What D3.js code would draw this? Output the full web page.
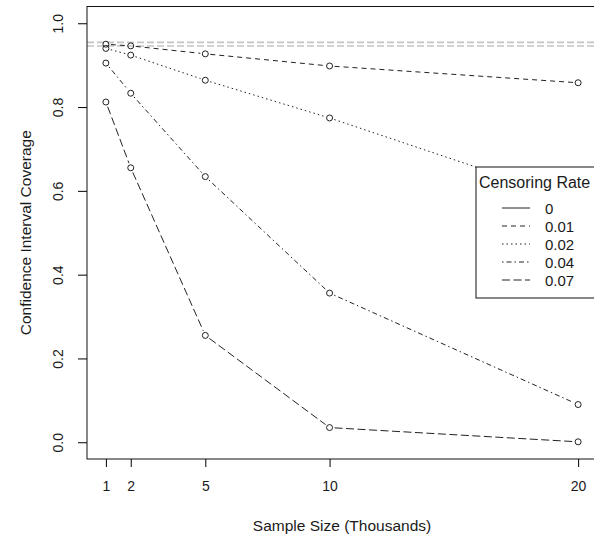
<!DOCTYPE html>
<html>
<head>
    <title>Confidence Interval Coverage</title>
    <script src="https://d3js.org/d3.v7.min.js"></script>
    <style>
        body { margin: 0; background: #fff; }
        text { font-family: "Liberation Sans", Arial, sans-serif; fill: #1a1a1a; }
    </style>
</head>
<body>
    <svg id="chart" width="594" height="540"></svg>

    <script>
    // sample sizes (thousands) on the x axis
    const sampleSizes = [1, 2, 5, 10, 20];
    // censoring rates, one line per rate
    const rates = ["0", "0.01", "0.02", "0.04", "0.07"];
    // coverage per censoring rate
    const cov001 = [0.950, 0.946, 0.927, 0.898, 0.858];
    const cov002 = [0.940, 0.924, 0.864, 0.774, 0.575];
    const cov004 = [0.905, 0.833, 0.634, 0.356, 0.090];
    const cov007 = [0.812, 0.655, 0.255, 0.035, 0.001];
    // reference band around the nominal 95%
    const nominalBand = [0.9457, 0.9543];
    const yTicks = [0, 0.2, 0.4, 0.6, 0.8, 1.0];

    // R style line types
    const lty = {
        "0": null,
        "0.01": "5,4",
        "0.02": "1.5,3",
        "0.04": "1.5,3,5,3",
        "0.07": "8,3.5"
    };

    const series = [
        { rate: "0.01", values: cov001 },
        { rate: "0.02", values: cov002 },
        { rate: "0.04", values: cov004 },
        { rate: "0.07", values: cov007 }
    ];

    const svg = d3.select("#chart");
    const pLeft = 87, pRight = 597, pTop = 6.5, pBottom = 459;

    // 4% padding like base graphics
    let scX = d3.scaleLinear().domain([0.24, 20.76]).range([pLeft, pRight]),
        scY = d3.scaleLinear().domain([-0.04, 1.04]).range([pBottom, pTop]);

    // grey dashed band lines
    svg.selectAll("line.band").data(nominalBand).enter().append("line")
        .attr("class", "band")
        .attr("x1", pLeft).attr("x2", pRight)
        .attr("y1", d => scY(d)).attr("y2", d => scY(d))
        .attr("stroke", "#c4c4c4").attr("stroke-width", 1.6)
        .attr("stroke-dasharray", "7,3");

    // lines with gaps round the points (type = "b")
    const gap = 5;
    series.forEach(s => {
        let pts = s.values.map((v, i) => [scX(sampleSizes[i]), scY(v)]);
        let segs = d3.pairs(pts).map(([a, b]) => {
            let dx = b[0] - a[0], dy = b[1] - a[1], len = Math.hypot(dx, dy);
            let ux = dx / len, uy = dy / len;
            return [a[0] + ux * gap, a[1] + uy * gap, b[0] - ux * gap, b[1] - uy * gap];
        });
        svg.append("g").selectAll("line").data(segs).enter().append("line")
            .attr("x1", d => d[0]).attr("y1", d => d[1])
            .attr("x2", d => d[2]).attr("y2", d => d[3])
            .attr("stroke", "#222").attr("stroke-width", 1)
            .attr("stroke-dasharray", lty[s.rate]);
        svg.append("g").selectAll("circle").data(pts).enter().append("circle")
            .attr("cx", d => d[0]).attr("cy", d => d[1]).attr("r", 3)
            .attr("fill", "none").attr("stroke", "#222").attr("stroke-width", 1);
    });

    // plot box
    svg.append("rect")
        .attr("x", pLeft).attr("y", pTop)
        .attr("width", pRight - pLeft).attr("height", pBottom - pTop)
        .attr("fill", "none").attr("stroke", "#111").attr("stroke-width", 1);

    // x axis
    let xAxis = d3.axisBottom(scX).tickValues(sampleSizes).tickSize(8).tickPadding(14);
    let gx = svg.append("g").attr("transform", "translate(0," + pBottom + ")").call(xAxis);
    gx.select(".domain").remove();
    gx.selectAll("text").style("font-size", "14px");

    // y axis, labels turned like las = 0
    let yAxis = d3.axisLeft(scY).tickValues(yTicks).tickFormat(d3.format(".1f")).tickSize(9);
    let gy = svg.append("g").attr("transform", "translate(" + pLeft + ",0)").call(yAxis);
    gy.select(".domain").remove();
    gy.selectAll("text")
        .style("font-size", "14px")
        .attr("x", null).attr("dy", null)
        .attr("text-anchor", "middle")
        .attr("transform", "translate(-29,0) rotate(-90)")
        .attr("y", 4.5);

    // axis titles
    svg.append("text")
        .attr("x", (pLeft + pRight) / 2).attr("y", 531)
        .attr("text-anchor", "middle").style("font-size", "15.5px")
        .text("Sample Size (Thousands)");
    svg.append("text")
        .attr("transform", "translate(31," + (pTop + pBottom) / 2 + ") rotate(-90)")
        .attr("text-anchor", "middle").style("font-size", "15.5px")
        .text("Confidence Interval Coverage");

    // legend
    let lg = svg.append("g");
    lg.append("rect")
        .attr("x", 476).attr("y", 167).attr("width", 160).attr("height", 131)
        .attr("fill", "#fff").attr("stroke", "#111").attr("stroke-width", 1);
    lg.append("text").attr("x", 479).attr("y", 188)
        .style("font-size", "16px").text("Censoring Rate");
    let items = lg.selectAll("g.item").data(rates).enter().append("g")
        .attr("class", "item")
        .attr("transform", (d, i) => "translate(0," + (208 + i * 18) + ")");
    items.append("line")
        .attr("x1", 502).attr("x2", 530).attr("y1", 0).attr("y2", 0)
        .attr("stroke", "#222").attr("stroke-width", 1)
        .attr("stroke-dasharray", d => lty[d]);
    items.append("text").attr("x", 545).attr("y", 5.5)
        .style("font-size", "15px").text(d => d);
    </script>
</body>
</html>
